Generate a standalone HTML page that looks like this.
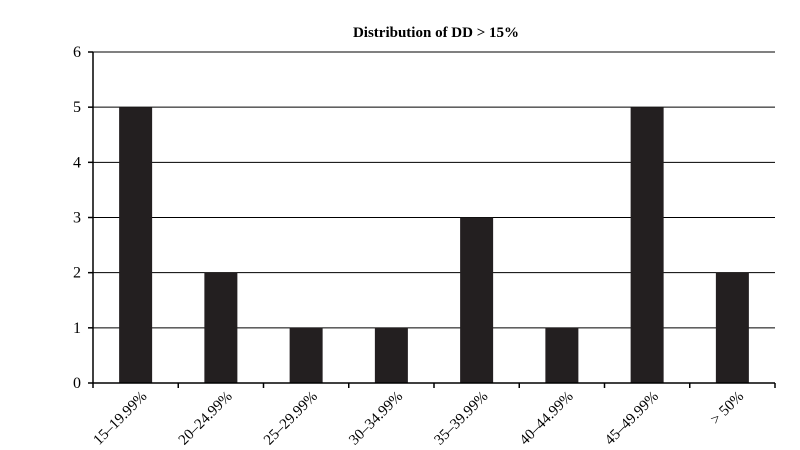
<!DOCTYPE html>
<html><head><meta charset="utf-8"><style>
body{margin:0;background:#fff}
svg{display:block;font-family:"Liberation Serif",serif}
</style></head><body>
<svg id="chart" width="800" height="450" viewBox="0 0 800 450">
<text x="436" y="37" text-anchor="middle" font-size="15" font-weight="bold">Distribution of DD &gt; 15%</text>
<g id="plot"></g>
</svg>
<script>
const categories=["15–19.99%","20–24.99%","25–29.99%","30–34.99%","35–39.99%","40–44.99%","45–49.99%","> 50%"];
const values=[5,2,1,1,3,1,5,2];
const yTicks=[0,1,2,3,4,5,6];
const NS="http://www.w3.org/2000/svg";
const g=document.getElementById('plot');
const x0=93,x1=775,y0=383,y1=52,yMax=6;
const bw=(x1-x0)/categories.length;
const Y=v=>y0-(v/yMax)*(y0-y1);
const X=i=>x0+i*bw;
function el(t,a){const e=document.createElementNS(NS,t);for(const k in a)e.setAttribute(k,a[k]);g.appendChild(e);return e;}
yTicks.forEach(t=>{
 if(t>0){const l=el('line',{x1:x0,x2:x1,y1:Y(t),y2:Y(t),stroke:'#000','stroke-width':1});
 
 }
 const tk=el('line',{x1:x0-5,x2:x0,y1:Y(t),y2:Y(t),stroke:'#000','stroke-width':1.5});
 
 
 const tx=el('text',{x:x0-12,y:Y(t)+5,'text-anchor':'end','font-size':16});
 tx.textContent=t;
 
 
});
values.forEach((v,i)=>{
 const w=33,cx=X(i)+bw/2;
 const r=el('rect',{x:cx-w/2,y:Y(v),width:w,height:y0-Y(v),fill:'#231f20'});
 
 
 const tx=el('text',{x:cx+12,y:y0+14,'text-anchor':'end','font-size':15,transform:`rotate(-45 ${cx+12} ${y0+14})`});
 tx.textContent=categories[i];
 
 
});
for(let i=0;i<=categories.length;i++){
 const tk=el('line',{x1:X(i),x2:X(i),y1:y0,y2:y0+5,stroke:'#000','stroke-width':1.5});
 
 
}
const ya=el('line',{x1:x0,x2:x0,y1:y1,y2:y0,stroke:'#000','stroke-width':1.5});


const xa=el('line',{x1:x0,x2:x1,y1:y0,y2:y0,stroke:'#000','stroke-width':1.5});


</script>
</body></html>
